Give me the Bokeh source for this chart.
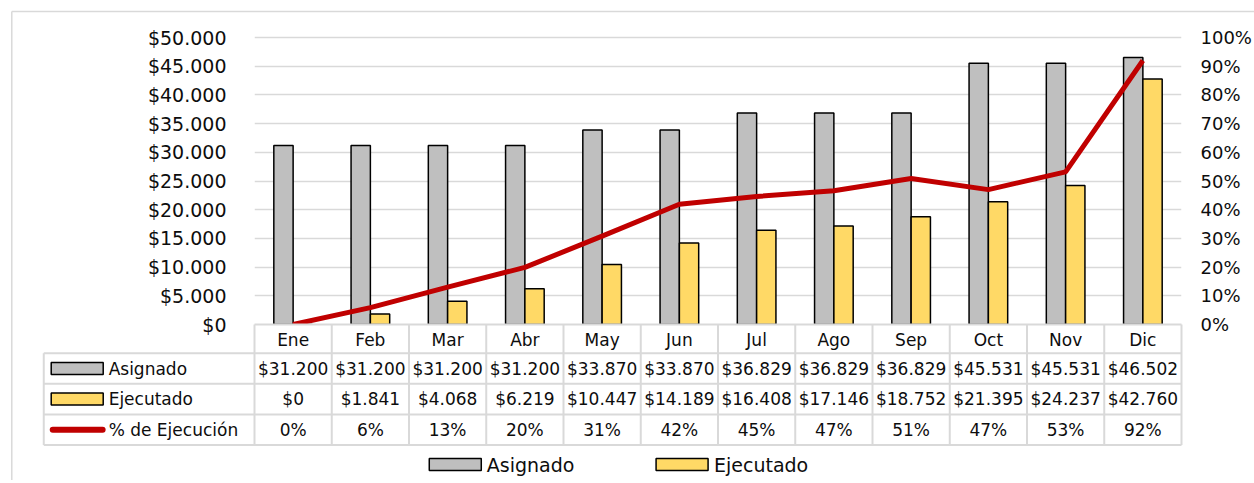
from bokeh.plotting import figure
from bokeh.models import Range1d, LinearAxis, FixedTicker, ColumnDataSource
from bokeh.transform import dodge
from bokeh.embed import file_html
from bokeh.resources import INLINE
from bokeh.core.properties import value

# ---------------- data ----------------
months = ["Ene", "Feb", "Mar", "Abr", "May", "Jun", "Jul", "Ago", "Sep", "Oct", "Nov", "Dic"]
asignado = [31200, 31200, 31200, 31200, 33870, 33870, 36829, 36829, 36829, 45531, 45531, 46502]
ejecutado = [0, 1841, 4068, 6219, 10447, 14189, 16408, 17146, 18752, 21395, 24237, 42760]
pct_ejec = [0.0, 5.9, 13.0, 19.9, 30.8, 41.9, 44.6, 46.6, 50.9, 47.0, 53.2, 92.0]

money_ticks = [0, 5000, 10000, 15000, 20000, 25000, 30000, 35000, 40000, 45000, 50000]
money_labels = ["$0", "$5.000", "$10.000", "$15.000", "$20.000", "$25.000",
                "$30.000", "$35.000", "$40.000", "$45.000", "$50.000"]
pct_ticks = [0, 10, 20, 30, 40, 50, 60, 70, 80, 90, 100]
pct_labels = ["0%", "10%", "20%", "30%", "40%", "50%", "60%", "70%", "80%", "90%", "100%"]
row_names = ["Asignado", "Ejecutado", "% de Ejecución"]
legend_names = ["Asignado", "Ejecutado"]

# ---------------- style ----------------
FONT = "DejaVu Sans"
TXT = "#0d0d0d"
GRID = "#d9d9d9"
GREY = "#bfbfbf"
YELLOW = "#ffd966"
RED = "#c00000"

n = len(months)
centers = [i + 0.5 for i in range(n)]


def money(v):
    return "$" + f"{v:,}".replace(",", ".")


src = ColumnDataSource(dict(x=centers, asig=asignado, ejec=ejecutado, pct=pct_ejec))

p = figure(width=1254, height=480, x_range=Range1d(0, n), y_range=Range1d(0, 50350),
           output_backend="svg", toolbar_location=None,
           min_border_left=254, min_border_right=72, min_border_top=35,
           min_border_bottom=156)
p.outline_line_color = None
p.extra_y_ranges = {"pct": Range1d(0, 100.7),
                    "tab": Range1d(start=-0.938, end=-10.382)}

# ---------------- chart marks ----------------
p.vbar(x=dodge("x", -0.125), top="asig", width=0.25, source=src,
       fill_color=GREY, line_color="black", line_width=1.5)
p.vbar(x=dodge("x", 0.125), top="ejec", width=0.25, source=src,
       fill_color=YELLOW, line_color="black", line_width=1.5)
p.line(x="x", y="pct", source=src, y_range_name="pct", line_color=RED, line_width=5)

# left axis
ya = p.yaxis[0]
ya.ticker = FixedTicker(ticks=money_ticks)
ya.major_label_overrides = dict(zip(money_ticks, money_labels))
ya.axis_line_color = None
ya.major_tick_line_color = None
ya.minor_tick_line_color = None
ya.major_tick_out = 0
ya.major_tick_in = 0
ya.major_label_standoff = 28
ya.major_label_text_font = FONT
ya.major_label_text_font_size = "19px"
ya.major_label_text_color = TXT

# right axis
ra = LinearAxis(y_range_name="pct", ticker=FixedTicker(ticks=pct_ticks),
                major_label_overrides=dict(zip(pct_ticks, pct_labels)))
ra.axis_line_color = None
ra.major_tick_line_color = None
ra.minor_tick_line_color = None
ra.major_tick_out = 0
ra.major_tick_in = 0
ra.major_label_standoff = 19
ra.major_label_text_font = FONT
ra.major_label_text_font_size = "18px"
ra.major_label_text_color = TXT
p.add_layout(ra, "right")

# bottom axis = header row (month names)
xa = p.xaxis[0]
xa.ticker = FixedTicker(ticks=centers)
xa.major_label_overrides = dict(zip(centers, months))
xa.major_tick_line_color = None
xa.minor_tick_line_color = None
xa.major_tick_out = 0
xa.major_tick_in = 0
xa.axis_line_color = GRID
xa.axis_line_width = 2
xa.major_label_standoff = 5
xa.major_label_text_font = FONT
xa.major_label_text_font_size = "17px"
xa.major_label_text_color = TXT

p.ygrid[0].ticker = FixedTicker(ticks=money_ticks)
p.ygrid[0].grid_line_color = GRID
p.ygrid[0].grid_line_width = 1.5
p.xgrid.visible = False

# ---------------- data table (drawn below the frame) ----------------
T = dict(y_range_name="tab", level="annotation")
left_edge = -2.728
hdr_top = -0.938

p.segment(x0=[left_edge] * 4, x1=[n] * 4, y0=[0, 1, 2, 3], y1=[0, 1, 2, 3],
          line_color=GRID, line_width=2, **T)
vx = list(range(n + 1))
p.segment(x0=vx, x1=vx, y0=[hdr_top] * len(vx), y1=[3] * len(vx),
          line_color=GRID, line_width=2, **T)
p.segment(x0=[left_edge], x1=[left_edge], y0=[0], y1=[3],
          line_color=GRID, line_width=2, **T)

cell_x, cell_y, cell_t = [], [], []
for i in range(n):
    cell_x += [centers[i]] * 3
    cell_y += [0.5, 1.5, 2.5]
    cell_t += [money(asignado[i]), money(ejecutado[i]), f"{round(pct_ejec[i])}%"]
p.text(x=cell_x, y=cell_y, text=cell_t, text_align="center", text_baseline="middle",
       text_font=value(FONT), text_font_size="17px", text_color=TXT, **T)

p.text(x=[-1.888] * 3, y=[0.5, 1.5, 2.5], text=row_names, text_align="left",
       text_baseline="middle", text_font=value(FONT), text_font_size="17px",
       text_color=TXT, **T)
p.rect(x=[-2.295, -2.295], y=[0.5, 1.5], width=52, height=12,
       width_units="screen", height_units="screen",
       fill_color=[GREY, YELLOW], line_color="black", line_width=1.5, **T)
p.segment(x0=[-2.612], x1=[-1.966], y0=[2.5], y1=[2.5], line_color=RED,
          line_width=6, line_cap="round", **T)

# ---------------- legend (below the table) ----------------
p.rect(x=[2.599, 5.535], y=[3.637, 3.637], width=52, height=12,
       width_units="screen", height_units="screen",
       fill_color=[GREY, YELLOW], line_color="black", line_width=1.5, **T)
p.text(x=[3.007, 5.948], y=[3.637, 3.637], text=legend_names, text_align="left",
       text_baseline="middle", text_font=value(FONT), text_font_size="19px",
       text_color=TXT, **T)

# chart-area border
p.segment(x0=[-3.142, -3.142], x1=[14.0, -3.142], y0=[-11.17, -11.17], y1=[-11.17, 6.0],
          line_color=GRID, line_width=1.5, **T)

open("out.html", "w").write(file_html(p, INLINE))
